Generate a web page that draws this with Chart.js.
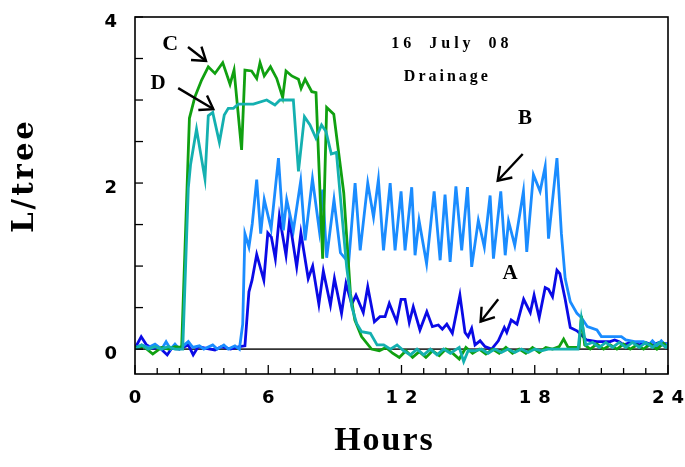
<!DOCTYPE html>
<html>
<head>
<meta charset="utf-8">
<script src="https://cdn.jsdelivr.net/npm/chart.js@4.4.0/dist/chart.umd.min.js"></script>
<style>
html,body{margin:0;padding:0;background:#ffffff;}
canvas{display:block;}
</style>
</head>
<body>
<canvas id="c" width="685" height="467"></canvas>
<script>
// ---------- data ----------
const xTickLabels = [0, 6, 12, 18, 24];
const yTickLabels = [0, 2, 4];

const hoursA = [0,0.28,0.52,0.8,1.1,1.45,1.65,2.0,2.4,2.62,2.85,3.2,3.6,3.9,4.3,4.7,4.95,5.13,5.27,5.48,5.8,5.98,6.14,6.32,6.5,6.8,6.96,7.28,7.47,7.8,8.0,8.28,8.48,8.8,8.98,9.3,9.5,9.76,9.95,10.28,10.48,10.78,11.03,11.26,11.45,11.78,11.98,12.16,12.35,12.53,12.83,13.14,13.39,13.66,13.84,14.04,14.29,14.63,14.86,15.0,15.16,15.31,15.54,15.76,16.06,16.36,16.63,16.74,16.94,17.2,17.5,17.8,17.97,18.2,18.47,18.62,18.8,19.0,19.13,19.37,19.6,19.9,20.1,20.33,20.8,21.4,21.6,21.8,22.0,22.4,22.7,23.0,23.3,23.6,24.0];
const valuesA = [0.01,0.15,0.05,0.01,0.02,-0.07,0.01,0.0,0.05,-0.07,0.03,0.01,-0.01,0.03,0.0,0.03,0.04,0.69,0.83,1.14,0.83,1.40,1.35,1.09,1.60,1.13,1.55,0.99,1.40,0.85,1.00,0.54,0.94,0.53,0.85,0.43,0.79,0.54,0.65,0.44,0.75,0.33,0.39,0.39,0.55,0.33,0.60,0.60,0.32,0.51,0.23,0.45,0.27,0.29,0.24,0.30,0.19,0.65,0.20,0.15,0.25,0.05,0.10,0.03,0.0,0.10,0.26,0.20,0.35,0.30,0.60,0.44,0.65,0.38,0.74,0.72,0.63,0.95,0.91,0.60,0.26,0.22,0.17,0.11,0.09,0.09,0.11,0.09,0.05,0.09,0.05,0.08,0.05,0.08,0.06];

const hoursB = [0,0.3,0.6,0.9,1.2,1.4,1.6,1.8,2.0,2.4,2.6,2.9,3.1,3.5,3.7,4.0,4.2,4.5,4.7,4.85,4.95,5.13,5.28,5.48,5.66,5.82,6.13,6.46,6.68,6.83,7.13,7.46,7.66,7.99,8.3,8.45,8.63,8.96,9.25,9.62,9.91,10.14,10.48,10.74,10.96,11.19,11.49,11.71,11.98,12.16,12.46,12.61,12.79,13.13,13.47,13.74,13.96,14.19,14.45,14.71,14.97,15.16,15.46,15.73,15.99,16.14,16.47,16.67,16.82,17.1,17.49,17.64,17.94,18.24,18.47,18.62,19.0,19.2,19.37,19.6,19.9,20.1,20.37,20.8,21.0,21.9,22.1,22.5,22.9,23.1,23.3,23.5,23.7,23.9,24.0];
const valuesB = [0.02,0.05,0.02,0.06,0.0,0.09,0.0,0.06,0.0,0.09,0.02,0.04,0.0,0.05,0.0,0.05,0.0,0.04,0.0,0.3,1.39,1.23,1.51,2.04,1.39,1.80,1.45,2.30,1.43,1.80,1.43,2.02,1.31,2.05,1.43,1.92,1.10,1.80,1.16,1.04,2.00,1.19,2.00,1.59,2.04,1.19,2.00,1.19,1.90,1.19,1.95,1.13,1.55,1.03,1.90,1.07,1.86,1.05,1.96,1.19,1.95,0.99,1.55,1.23,1.85,1.09,1.90,1.13,1.54,1.25,1.90,1.17,2.10,1.90,2.20,1.33,2.30,1.39,0.85,0.57,0.43,0.38,0.27,0.23,0.15,0.15,0.11,0.09,0.09,0.04,0.10,0.04,0.10,0.04,0.08];

const hoursC = [0,0.4,0.8,1.2,1.5,1.8,2.1,2.45,2.7,3.0,3.3,3.6,3.95,4.28,4.46,4.8,4.95,5.25,5.48,5.63,5.82,6.1,6.38,6.65,6.8,7.06,7.36,7.48,7.66,7.96,8.15,8.45,8.63,8.95,9.4,9.7,9.9,10.2,10.65,11.0,11.3,11.6,11.9,12.2,12.5,12.8,13.1,13.4,13.7,14.0,14.3,14.6,14.9,15.2,15.5,15.8,16.1,16.4,16.7,17.0,17.3,17.6,17.9,18.2,18.5,18.8,19.1,19.3,19.5,19.8,20.0,20.1,20.25,20.5,20.8,21.1,21.4,21.7,22.0,22.3,22.6,22.9,23.2,23.5,23.8,24.0];
const valuesC = [0.02,0.03,-0.06,0.02,0.0,0.03,0.02,2.78,3.04,3.24,3.40,3.32,3.45,3.19,3.36,2.40,3.36,3.35,3.26,3.45,3.29,3.40,3.26,3.03,3.35,3.29,3.25,3.14,3.25,3.10,3.09,1.09,2.91,2.83,1.88,0.67,0.35,0.15,0.0,-0.02,0.02,-0.05,-0.10,-0.02,-0.10,-0.03,-0.10,-0.02,-0.08,0.0,-0.05,-0.12,0.02,-0.05,0.0,-0.06,0.0,-0.05,0.02,-0.05,0.0,-0.05,0.02,-0.04,0.02,0.0,0.03,0.12,0.02,0.02,0.02,0.40,0.05,0.0,0.06,0.0,0.05,0.0,0.06,0.0,0.05,0.0,0.06,0.0,0.07,0.02];

const hoursD = [0,0.3,0.6,0.9,1.2,1.5,1.8,2.15,2.4,2.5,2.77,3.15,3.3,3.5,3.8,4.02,4.2,4.43,4.65,5.33,5.93,6.3,6.53,7.13,7.36,7.63,7.88,8.15,8.4,8.6,8.84,9.07,9.3,9.53,9.76,9.98,10.2,10.6,10.9,11.2,11.5,11.8,12.1,12.4,12.7,13.0,13.3,13.6,13.9,14.2,14.6,14.8,15.0,15.3,15.6,15.9,16.2,16.5,16.8,17.1,17.4,17.7,18.0,18.3,18.6,19.0,19.5,19.95,20.1,20.3,20.6,20.9,21.2,21.5,21.8,22.1,22.4,22.7,23.0,23.3,23.6,23.9,24.0];
const valuesD = [0.0,0.05,0.0,0.03,0.0,0.03,0.0,0.0,1.94,2.22,2.65,2.05,2.81,2.85,2.49,2.82,2.90,2.90,2.95,2.95,3.00,2.94,3.00,3.00,2.14,2.80,2.70,2.54,2.70,2.62,2.35,2.37,1.67,0.99,0.51,0.31,0.21,0.19,0.05,0.05,0.0,0.05,-0.02,-0.07,0.0,-0.07,0.0,-0.07,0.0,-0.05,0.02,-0.15,-0.02,-0.02,0.0,-0.05,0.0,-0.04,0.0,-0.04,0.0,-0.04,0.0,-0.02,0.0,0.0,0.0,0.0,0.37,0.05,0.08,0.02,0.08,0.02,0.08,0.02,0.08,0.02,0.08,0.02,0.08,0.02,0.05];

// annotations (data coordinates)
const noteTexts = [
  {text: 'C', x: 1.58, y: 3.675, size: 22, spacing: 0},
  {text: 'D', x: 1.04, y: 3.20, size: 21, spacing: 0},
  {text: 'B', x: 17.56, y: 2.78, size: 21, spacing: 0},
  {text: 'A', x: 16.89, y: 0.91, size: 21, spacing: 0},
  {text: '16 July 08', x: 14.18, y: 3.675, size: 16, spacing: 4, word: 6},
  {text: 'Drainage', x: 14.0, y: 3.284, size: 16, spacing: 3, word: 0}
];
const noteArrows = [
  {from: [2.387, 3.639], to: [3.197, 3.470]},
  {from: [1.945, 3.143], to: [3.526, 2.891]},
  {from: [17.458, 2.350], to: [16.332, 2.028]},
  {from: [16.355, 0.600], to: [15.562, 0.330]}
];

// ---------- helpers ----------
function pts(hs, vs) { return hs.map((h, i) => ({x: h, y: vs[i]})); }

function wrapDraw(scale, method, spacing, dx, dy) {
  const key = '_orig_' + method;
  if (scale[key]) return;
  const orig = scale[method];
  scale[key] = orig;
  scale[method] = function () {
    const ctx = this.ctx;
    ctx.save();
    ctx.letterSpacing = spacing + 'px';
    ctx.translate(dx, dy);
    orig.apply(this, arguments);
    ctx.restore();
  };
}

const decorPlugin = {
  id: 'decor',
  afterLayout(chart) {
    wrapDraw(chart.scales.x, 'drawLabels', 7, 3.5, 0);
    wrapDraw(chart.scales.x, 'drawTitle', 2, -17, 0);
    wrapDraw(chart.scales.y, 'drawLabels', 0, 0, 0);
    wrapDraw(chart.scales.y, 'drawTitle', 3, 0, -20);
  },
  beforeDatasetsDraw(chart) {
    const ctx = chart.ctx, a = chart.chartArea, ys = chart.scales.y;
    const py = ys.getPixelForValue(0);
    ctx.save();
    ctx.strokeStyle = '#333333';
    ctx.lineWidth = 1.6;
    ctx.beginPath();
    ctx.moveTo(a.left, py);
    ctx.lineTo(a.right, py);
    ctx.stroke();
    ctx.restore();
  },
  afterDraw(chart) {
    const ctx = chart.ctx, a = chart.chartArea, xs = chart.scales.x, ys = chart.scales.y;
    ctx.save();
    // frame
    ctx.strokeStyle = '#000000';
    ctx.lineWidth = 1.6;
    ctx.strokeRect(a.left, a.top, a.right - a.left, a.bottom - a.top);
    // inner ticks
    ctx.lineWidth = 1.3;
    for (let h = xs.min; h <= xs.max + 1e-9; h += 1) {
      const px = xs.getPixelForValue(h);
      const len = (Math.round(h) % 6 === 0) ? 9 : 6;
      ctx.beginPath();
      ctx.moveTo(px, a.bottom);
      ctx.lineTo(px, a.bottom - len);
      ctx.stroke();
    }
    for (let v = 0; v <= ys.max + 1e-9; v += 0.5) {
      const py = ys.getPixelForValue(v);
      ctx.beginPath();
      ctx.moveTo(a.left, py);
      ctx.lineTo(a.left + 8, py);
      ctx.stroke();
    }
    // texts
    ctx.fillStyle = '#000000';
    ctx.textAlign = 'center';
    ctx.textBaseline = 'middle';
    noteTexts.forEach(t => {
      ctx.font = 'bold ' + t.size + 'px "Liberation Serif", serif';
      ctx.letterSpacing = (t.spacing || 0) + 'px';
      ctx.wordSpacing = (t.word || 0) + 'px';
      const px = xs.getPixelForValue(t.x) + (t.spacing || 0) / 2;
      const py = ys.getPixelForValue(t.y);
      ctx.fillText(t.text, px, py);
    });
    ctx.letterSpacing = '0px';
    ctx.wordSpacing = '0px';
    // arrows
    ctx.lineWidth = 2.4;
    ctx.lineCap = 'butt';
    ctx.lineJoin = 'miter';
    noteArrows.forEach(ar => {
      const x1 = xs.getPixelForValue(ar.from[0]), y1 = ys.getPixelForValue(ar.from[1]);
      const x2 = xs.getPixelForValue(ar.to[0]), y2 = ys.getPixelForValue(ar.to[1]);
      const ang = Math.atan2(y2 - y1, x2 - x1);
      const hl = 15, ha = 0.6;
      ctx.beginPath();
      ctx.moveTo(x1, y1);
      ctx.lineTo(x2, y2);
      ctx.stroke();
      ctx.beginPath();
      ctx.moveTo(x2 - hl * Math.cos(ang - ha), y2 - hl * Math.sin(ang - ha));
      ctx.lineTo(x2, y2);
      ctx.lineTo(x2 - hl * Math.cos(ang + ha), y2 - hl * Math.sin(ang + ha));
      ctx.stroke();
    });
    ctx.restore();
  }
};

const lineDefaults = {
  pointRadius: 0,
  pointHoverRadius: 0,
  borderWidth: 2.8,
  tension: 0,
  fill: false,
  borderJoinStyle: 'miter'
};

new Chart(document.getElementById('c'), {
  type: 'line',
  data: {
    datasets: [
      Object.assign({label: 'D', data: pts(hoursD, valuesD), borderColor: '#14B0B0'}, lineDefaults),
      Object.assign({label: 'C', data: pts(hoursC, valuesC), borderColor: '#10A010'}, lineDefaults),
      Object.assign({label: 'B', data: pts(hoursB, valuesB), borderColor: '#1A8CFF'}, lineDefaults),
      Object.assign({label: 'A', data: pts(hoursA, valuesA), borderColor: '#0A0AE6'}, lineDefaults)
    ]
  },
  options: {
    responsive: false,
    animation: false,
    devicePixelRatio: 1,
    layout: {padding: {left: 0, right: 17, top: 17, bottom: 0}},
    plugins: {legend: {display: false}, tooltip: {enabled: false}},
    scales: {
      x: {
        type: 'linear',
        min: 0,
        max: 24,
        afterBuildTicks: s => { s.ticks = xTickLabels.map(v => ({value: v})); },
        afterFit: s => { s.height = 93; s.paddingLeft = 0; s.paddingRight = 0; },
        ticks: {
          color: '#000000',
          padding: 14,
          maxRotation: 0,
          font: {family: '"DejaVu Sans", sans-serif', weight: 'bold', size: 18}
        },
        grid: {display: false, drawTicks: false},
        border: {display: false},
        title: {
          display: true,
          text: 'Hours',
          color: '#000000',
          padding: {top: 0, bottom: 5},
          font: {family: '"Liberation Serif", serif', weight: 'bold', size: 34}
        }
      },
      y: {
        type: 'linear',
        min: -0.3,
        max: 4,
        afterBuildTicks: s => { s.ticks = yTickLabels.map(v => ({value: v})); },
        afterFit: s => { s.width = 135; s.paddingTop = 0; s.paddingBottom = 0; },
        ticks: {
          color: '#000000',
          padding: 18,
          labelOffset: 5,
          font: {family: '"DejaVu Sans", sans-serif', weight: 'bold', size: 18}
        },
        grid: {display: false, drawTicks: false},
        border: {display: false},
        title: {
          display: true,
          text: 'L/tree',
          color: '#000000',
          padding: {top: 8, bottom: 0},
          font: {family: '"DejaVu Serif", serif', weight: 'bold', size: 29}
        }
      }
    }
  },
  plugins: [decorPlugin]
});
</script>
</body>
</html>
